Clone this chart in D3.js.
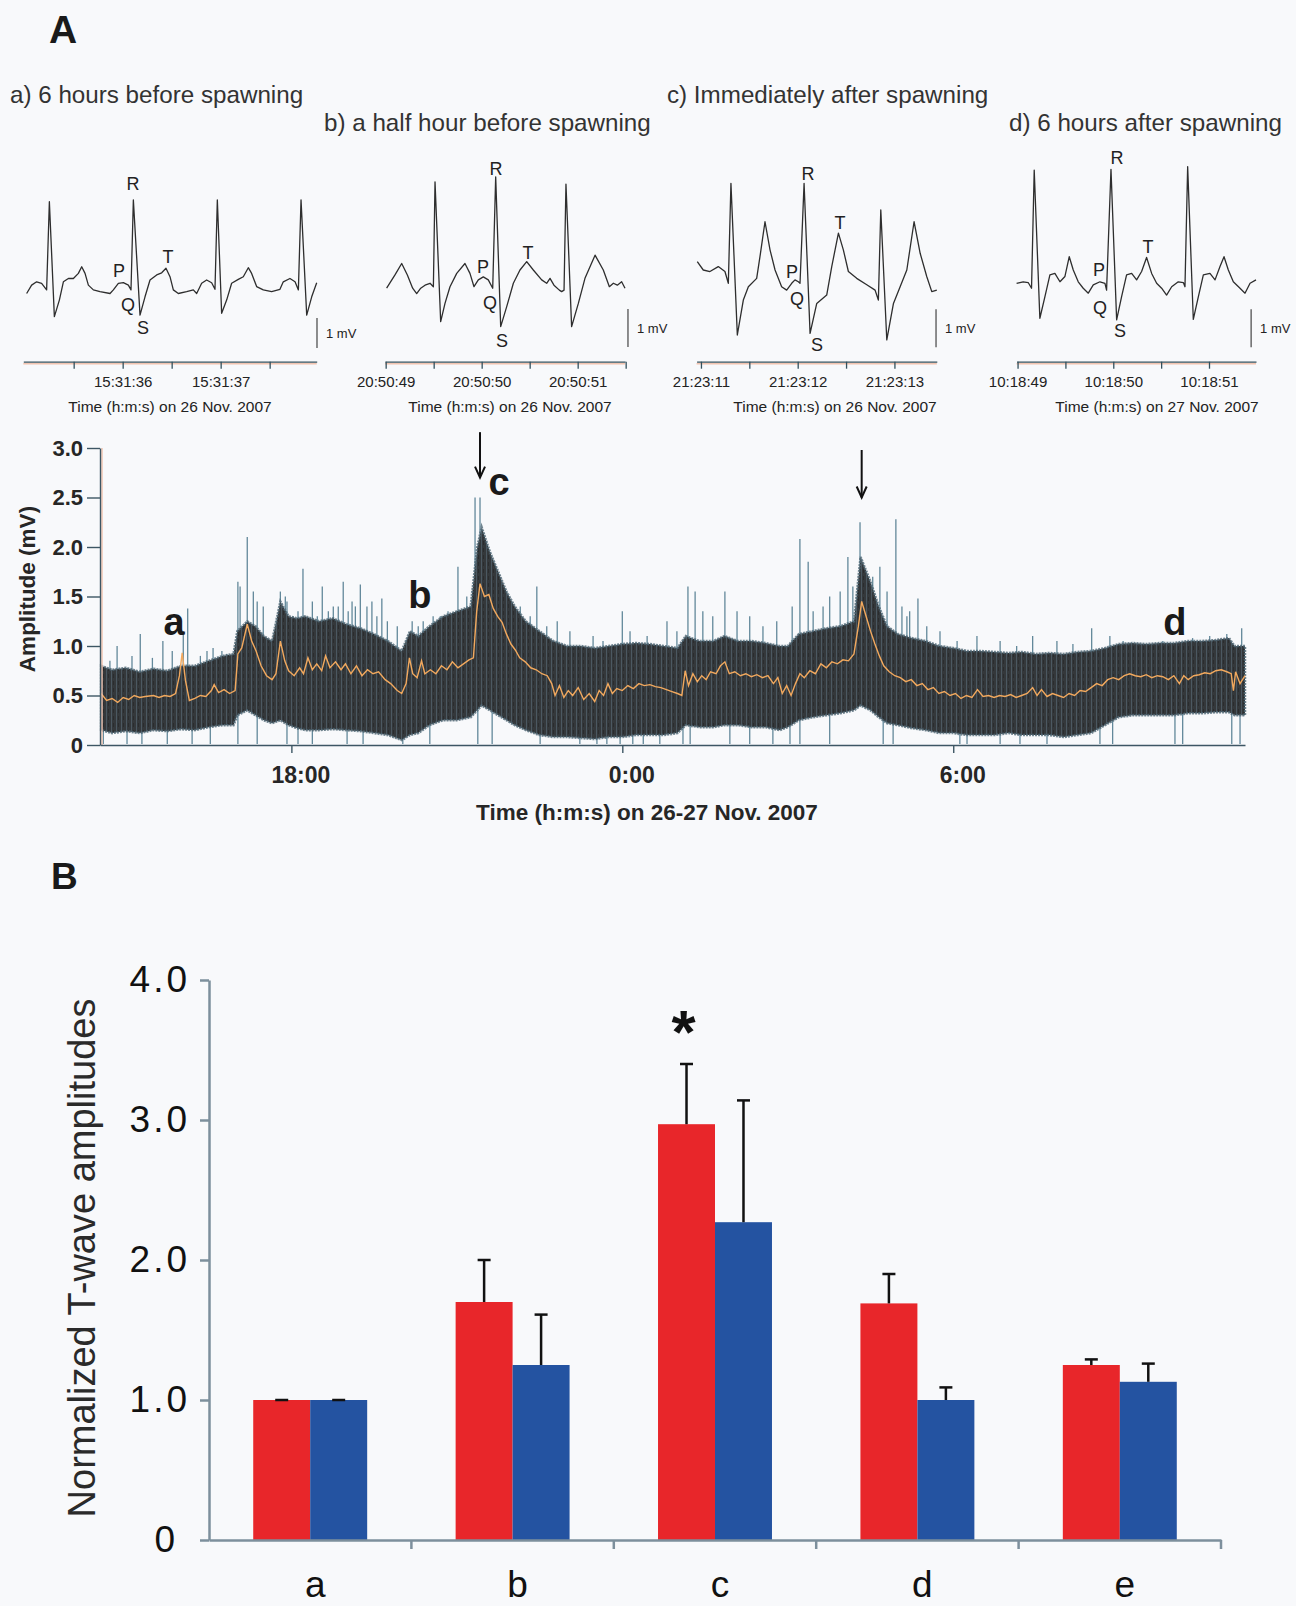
<!DOCTYPE html>
<html>
<head>
<meta charset="utf-8">
<script src="https://cdn.jsdelivr.net/npm/d3@7"></script>
<style>
body { margin: 0; background: #f8f9fb; }
svg { display: block; font-family: "Liberation Sans", Arial, sans-serif; }
</style>
</head>
<body>
<div id="screen"></div>
<script>
// ---------- A: ECG snippets, [seconds from the labelled tick, mV] ----------
const ecgA = [[-0.980,-0.06],[-0.929,0.22],[-0.878,0.33],[-0.827,0.28],[-0.776,0.06],[-0.748,3.0],[-0.697,-0.83],[-0.646,-0.28],[-0.605,0.33],[-0.554,0.44],[-0.503,0.44],[-0.452,0.61],[-0.418,0.83],[-0.384,0.61],[-0.350,0.22],[-0.299,0.06],[-0.231,0],[-0.129,-0.06],[-0.095,0.06],[-0.044,0.28],[0.007,0.30],[0.058,0.22],[0.085,0.06],[0.109,3.06],[0.177,-0.78],[0.228,-0.17],[0.279,0.39],[0.347,0.56],[0.398,0.63],[0.442,0.78],[0.483,0.5],[0.517,0.06],[0.568,-0.06],[0.653,0],[0.721,0.06],[0.755,-0.06],[0.806,0.28],[0.857,0.39],[0.908,0.30],[0.942,0.08],[0.966,3.06],[1.010,-0.72],[1.061,-0.28],[1.112,0.28],[1.180,0.41],[1.231,0.5],[1.282,0.8],[1.316,0.61],[1.367,0.17],[1.435,0.06],[1.520,0],[1.605,0.08],[1.639,0.33],[1.707,0.44],[1.759,0.33],[1.793,0.06],[1.820,3.06],[1.878,-0.78],[1.929,-0.17],[1.980,0.30]]
const ecgB = [[-0.990,-0.04],[-0.903,0.31],[-0.833,0.61],[-0.774,0.31],[-0.719,-0.04],[-0.677,-0.18],[-0.635,-0.04],[-0.590,0.04],[-0.538,0.09],[-0.503,0],[-0.486,2.76],[-0.427,-0.92],[-0.382,-0.44],[-0.330,0],[-0.260,0.35],[-0.174,0.61],[-0.122,0.35],[-0.080,0],[-0.035,0.18],[0.017,0.26],[0.069,0.18],[0.115,-0.04],[0.146,2.89],[0.198,-1.05],[0.260,-0.53],[0.330,0.09],[0.399,0.44],[0.469,0.66],[0.538,0.44],[0.625,0.18],[0.677,0.09],[0.712,0.22],[0.753,0.04],[0.809,-0.09],[0.833,-0.13],[0.858,-0.09],[0.878,2.70],[0.937,-1.05],[1.007,-0.44],[1.076,0.22],[1.181,0.83],[1.267,0.44],[1.330,0],[1.372,0.09],[1.413,0.04],[1.458,0.13],[1.493,-0.04]]
const ecgC = [[-1.038,0.57],[-0.976,0.35],[-0.907,0.31],[-0.821,0.44],[-0.752,0.31],[-0.717,0],[-0.690,2.63],[-0.624,-1.36],[-0.562,-0.44],[-0.510,-0.09],[-0.424,0.13],[-0.390,0.70],[-0.338,1.62],[-0.286,0.88],[-0.234,0.35],[-0.166,-0.09],[-0.114,-0.18],[-0.062,0],[-0.028,0.09],[0.007,0.04],[0.024,0],[0.066,2.63],[0.128,-1.32],[0.197,-0.53],[0.300,-0.31],[0.352,0.44],[0.421,1.32],[0.472,0.88],[0.524,0.31],[0.610,0.13],[0.714,-0.04],[0.800,-0.18],[0.834,-0.44],[0.859,1.93],[0.921,-1.49],[0.990,-0.53],[1.059,-0.09],[1.128,0.35],[1.203,1.62],[1.266,0.79],[1.334,0.18],[1.386,-0.22],[1.438,-0.18]]
const ecgD = [[-1.010,0],[-0.941,0.04],[-0.889,0.02],[-0.854,-0.13],[-0.826,2.98],[-0.767,-0.92],[-0.714,-0.35],[-0.662,0.22],[-0.610,0.26],[-0.557,0.04],[-0.505,0.18],[-0.460,0.70],[-0.418,0.35],[-0.366,0.04],[-0.314,-0.13],[-0.261,-0.26],[-0.209,-0.04],[-0.139,0.04],[-0.087,0],[-0.070,-0.18],[-0.024,3.0],[0.035,-0.96],[0.087,-0.35],[0.139,0.22],[0.192,0.26],[0.244,0.09],[0.296,0.31],[0.348,0.68],[0.401,0.26],[0.453,0],[0.505,-0.13],[0.557,-0.31],[0.610,-0.09],[0.679,0.04],[0.732,0.02],[0.749,-0.09],[0.777,3.07],[0.836,-0.95],[0.889,-0.35],[0.941,0.22],[1.010,0.26],[1.063,0.09],[1.115,0.44],[1.157,0.70],[1.202,0.35],[1.254,0.04],[1.324,-0.13],[1.376,-0.26],[1.429,0],[1.491,0.09]]

const snippetTitles = ['a) 6 hours before spawning', 'b) a half hour before spawning', 'c) Immediately after spawning', 'd) 6 hours after spawning']
const snippetDates = ['26 Nov. 2007', '26 Nov. 2007', '26 Nov. 2007', '27 Nov. 2007']
const ticksA = [-0.5, 0, 0.5, 1, 1.5], tickTextA = ['', '15:31:36', '', '15:31:37', '']
const ticksB = [-1, -0.5, 0, 0.5, 1, 1.5], tickTextB = ['20:50:49', '', '20:50:50', '', '20:50:51', '']
const ticksC = [-1, -0.5, 0, 0.5, 1], tickTextC = ['21:23:11', '', '21:23:12', '', '21:23:13']
const ticksD = [-1, -0.5, 0, 0.5, 1], tickTextD = ['10:18:49', '', '10:18:50', '', '10:18:51']
// wave letters placed at [letter, s, mV]
const wavesA = [['R',0.105,3.62],['P',-0.038,0.72],['Q',0.054,-0.44],['S',0.207,-1.18],['T',0.462,1.16]]
const wavesB = [['R',0.149,3.12],['P',0.014,0.52],['Q',0.086,-0.41],['S',0.211,-1.41],['T',0.482,0.91]]
const wavesC = [['R',0.107,2.90],['P',-0.059,0.30],['Q',-0.007,-0.39],['S',0.200,-1.62],['T',0.437,1.59]]
const wavesD = [['R',0.039,3.30],['P',-0.149,0.35],['Q',-0.139,-0.65],['S',0.070,-1.23],['T',0.363,0.96]]

// ---------- A: amplitude over the night, hours after 0:00 on 26 Nov ----------
// dark band of the raw trace: [hour, low mV, high mV]
const noiseBand = [[14.55,0.15,0.80],[14.75,0.12,0.76],[15.0,0.14,0.78],[15.25,0.12,0.74],[15.5,0.15,0.77],[15.75,0.14,0.75],[16.0,0.16,0.80],[16.25,0.15,0.80],[16.5,0.18,0.85],[16.75,0.2,0.9],[16.95,0.2,0.92],[17.02,0.3,1.15],[17.2,0.35,1.25],[17.35,0.3,1.2],[17.5,0.25,1.1],[17.65,0.22,1.05],[17.8,0.25,1.45],[17.95,0.2,1.3],[18.1,0.17,1.28],[18.25,0.15,1.3],[18.5,0.15,1.25],[18.75,0.16,1.28],[19.0,0.15,1.22],[19.25,0.14,1.18],[19.5,0.12,1.12],[19.75,0.1,1.05],[20.0,0.05,0.95],[20.15,0.1,1.15],[20.3,0.12,1.1],[20.5,0.2,1.2],[20.75,0.25,1.3],[21.0,0.25,1.35],[21.25,0.28,1.4],[21.37,0.35,2.0],[21.45,0.4,2.2],[21.6,0.35,1.95],[21.75,0.3,1.75],[21.9,0.25,1.55],[22.05,0.2,1.4],[22.25,0.15,1.25],[22.5,0.1,1.15],[22.75,0.08,1.05],[23.0,0.08,1.0],[23.25,0.07,1.0],[23.5,0.06,0.98],[23.75,0.08,1.0],[24.0,0.08,1.02],[24.25,0.1,1.03],[24.5,0.1,1.02],[24.75,0.1,1.0],[25.0,0.12,0.98],[25.15,0.2,1.1],[25.4,0.18,1.05],[25.65,0.18,1.05],[25.85,0.2,1.1],[26.1,0.2,1.05],[26.35,0.18,1.05],[26.6,0.18,1.03],[26.85,0.15,1.0],[27.0,0.18,1.0],[27.2,0.25,1.12],[27.45,0.28,1.15],[27.7,0.3,1.18],[27.95,0.32,1.2],[28.2,0.35,1.25],[28.32,0.4,1.9],[28.5,0.35,1.65],[28.65,0.28,1.4],[28.8,0.22,1.2],[29.0,0.2,1.12],[29.25,0.17,1.08],[29.5,0.15,1.05],[29.75,0.12,1.0],[30.0,0.12,0.98],[30.25,0.1,0.95],[30.5,0.1,0.95],[30.75,0.1,0.94],[31.0,0.12,0.93],[31.25,0.1,0.94],[31.5,0.1,0.92],[31.75,0.1,0.93],[32.0,0.08,0.92],[32.25,0.1,0.94],[32.5,0.12,0.95],[32.75,0.2,0.98],[33.0,0.28,1.02],[33.25,0.3,1.03],[33.5,0.3,1.02],[33.75,0.3,1.03],[34.0,0.3,1.03],[34.25,0.32,1.05],[34.5,0.32,1.05],[34.75,0.33,1.06],[35.0,0.33,1.08],[35.1,0.3,1.0],[35.29,0.3,1.0]]
// orange running mean: [hour, mV]
const trend = [[14.55,0.52],[14.65,0.45],[14.75,0.47],[14.85,0.43],[14.95,0.48],[15.05,0.46],[15.15,0.50],[15.25,0.48],[15.35,0.49],[15.5,0.50],[15.6,0.48],[15.7,0.50],[15.8,0.49],[15.9,0.52],[15.97,0.70],[16.02,0.93],[16.08,0.65],[16.15,0.45],[16.25,0.47],[16.35,0.50],[16.45,0.49],[16.55,0.55],[16.6,0.61],[16.68,0.53],[16.78,0.56],[16.88,0.52],[16.98,0.55],[17.03,0.92],[17.1,0.98],[17.2,1.22],[17.28,1.05],[17.36,0.95],[17.45,0.80],[17.55,0.70],[17.65,0.66],[17.72,0.72],[17.8,1.05],[17.88,0.85],[17.95,0.75],[18.05,0.70],[18.15,0.78],[18.22,0.72],[18.3,0.88],[18.38,0.76],[18.46,0.82],[18.55,0.75],[18.62,0.90],[18.7,0.78],[18.8,0.84],[18.9,0.76],[18.98,0.82],[19.08,0.72],[19.18,0.80],[19.28,0.70],[19.38,0.76],[19.48,0.72],[19.58,0.74],[19.7,0.66],[19.8,0.62],[19.92,0.55],[20.0,0.52],[20.08,0.62],[20.14,0.88],[20.2,0.72],[20.28,0.68],[20.36,0.85],[20.42,0.72],[20.52,0.76],[20.62,0.72],[20.72,0.80],[20.82,0.76],[20.92,0.84],[21.02,0.78],[21.12,0.82],[21.22,0.86],[21.3,0.88],[21.36,1.35],[21.42,1.63],[21.5,1.50],[21.58,1.52],[21.66,1.38],[21.74,1.30],[21.82,1.24],[21.9,1.12],[21.98,1.02],[22.06,0.96],[22.14,0.88],[22.24,0.84],[22.34,0.78],[22.44,0.76],[22.54,0.72],[22.64,0.70],[22.72,0.62],[22.78,0.50],[22.86,0.60],[22.94,0.48],[23.02,0.55],[23.1,0.50],[23.2,0.58],[23.3,0.46],[23.4,0.52],[23.5,0.44],[23.58,0.55],[23.66,0.50],[23.74,0.62],[23.82,0.52],[23.9,0.57],[24.0,0.55],[24.1,0.60],[24.2,0.57],[24.3,0.62],[24.4,0.60],[24.5,0.61],[24.6,0.59],[24.7,0.58],[24.8,0.56],[24.9,0.54],[25.0,0.52],[25.08,0.50],[25.14,0.75],[25.2,0.60],[25.28,0.72],[25.36,0.64],[25.44,0.70],[25.52,0.66],[25.6,0.74],[25.7,0.72],[25.78,0.80],[25.86,0.84],[25.94,0.72],[26.04,0.74],[26.14,0.70],[26.24,0.72],[26.34,0.69],[26.44,0.71],[26.54,0.68],[26.64,0.70],[26.74,0.62],[26.82,0.68],[26.9,0.52],[26.98,0.60],[27.06,0.50],[27.14,0.62],[27.22,0.72],[27.3,0.68],[27.4,0.75],[27.5,0.72],[27.6,0.82],[27.7,0.78],[27.8,0.84],[27.9,0.82],[28.0,0.86],[28.1,0.85],[28.2,0.92],[28.28,1.20],[28.34,1.45],[28.42,1.30],[28.5,1.15],[28.58,1.02],[28.66,0.90],[28.74,0.80],[28.84,0.74],[28.94,0.70],[29.04,0.68],[29.14,0.64],[29.24,0.66],[29.34,0.60],[29.44,0.62],[29.54,0.56],[29.64,0.58],[29.74,0.52],[29.84,0.54],[29.94,0.50],[30.04,0.52],[30.14,0.47],[30.24,0.50],[30.34,0.48],[30.44,0.56],[30.54,0.49],[30.64,0.50],[30.74,0.48],[30.84,0.50],[30.94,0.49],[31.04,0.51],[31.14,0.48],[31.24,0.50],[31.34,0.52],[31.44,0.58],[31.52,0.50],[31.6,0.56],[31.7,0.49],[31.8,0.52],[31.9,0.50],[32.0,0.48],[32.1,0.52],[32.2,0.50],[32.3,0.55],[32.4,0.54],[32.5,0.58],[32.6,0.62],[32.7,0.60],[32.8,0.66],[32.9,0.68],[33.0,0.66],[33.1,0.70],[33.2,0.72],[33.3,0.70],[33.4,0.69],[33.5,0.71],[33.6,0.68],[33.7,0.70],[33.8,0.69],[33.9,0.66],[34.0,0.70],[34.1,0.62],[34.18,0.70],[34.26,0.66],[34.36,0.70],[34.46,0.71],[34.56,0.73],[34.66,0.72],[34.76,0.75],[34.86,0.76],[34.96,0.74],[35.04,0.72],[35.08,0.55],[35.12,0.74],[35.2,0.62],[35.29,0.70]]
// single tall beats above the band: [hour, peak mV]
const spikesUp = [[14.71,0.85],[14.84,1.0],[15.11,0.9],[15.26,1.12],[15.48,0.88],[15.67,1.05],[15.84,0.95],[16.04,1.15],[16.12,1.38],[16.35,0.9],[16.47,0.95],[16.58,0.98],[16.74,0.95],[16.83,0.92],[17.03,1.65],[17.07,1.6],[17.2,2.1],[17.31,1.55],[17.38,1.45],[17.49,1.4],[17.8,1.55],[17.89,1.5],[17.92,1.45],[18.03,1.3],[18.12,1.35],[18.21,1.78],[18.38,1.45],[18.47,1.3],[18.56,1.6],[18.67,1.35],[18.76,1.4],[18.85,1.4],[18.94,1.65],[19.03,1.35],[19.1,1.45],[19.16,1.4],[19.25,1.62],[19.37,1.4],[19.46,1.45],[19.55,1.3],[19.64,1.48],[19.74,1.25],[19.92,1.2],[20.19,1.25],[20.3,1.2],[20.39,1.25],[20.57,1.3],[20.7,1.3],[20.84,1.35],[21.02,1.8],[21.18,1.5],[21.33,2.5],[21.42,2.5],[21.6,1.95],[21.73,1.55],[21.91,1.45],[22.15,1.4],[22.33,1.3],[22.45,1.6],[22.63,1.2],[22.82,1.25],[23.05,1.15],[23.47,1.1],[23.65,1.05],[24.0,1.35],[24.14,1.15],[24.45,1.1],[24.81,1.25],[24.99,1.15],[25.19,1.6],[25.32,1.55],[25.46,1.35],[25.64,1.3],[25.86,1.55],[26.08,1.35],[26.31,1.3],[26.55,1.2],[26.8,1.25],[27.08,1.4],[27.22,2.08],[27.37,1.85],[27.46,1.35],[27.64,1.4],[27.76,1.5],[27.95,1.55],[28.09,1.9],[28.18,1.6],[28.31,2.25],[28.54,1.7],[28.67,1.8],[28.8,1.55],[28.96,2.28],[29.07,1.4],[29.16,1.3],[29.21,1.35],[29.36,1.48],[29.52,1.2],[29.76,1.15],[30.07,1.05],[30.43,1.1],[30.85,1.05],[31.15,1.0],[31.44,1.1],[31.88,1.05],[32.17,1.02],[32.51,1.18],[32.84,1.1],[33.08,1.05],[33.44,1.02],[33.8,1.05],[34.34,1.08],[34.65,1.1],[34.96,1.12],[35.23,1.18]]
// beats that drop to the baseline: hour
const spikesDown = [14.59,15.02,15.29,15.75,16.2,16.53,17.03,17.38,17.92,18.12,18.38,19.01,19.3,20.02,20.51,21.38,21.64,22.51,23.23,23.54,23.72,23.96,24.19,24.38,24.68,25.1,25.23,25.95,26.31,26.73,27.04,27.22,27.76,28.73,28.91,30.12,30.25,30.85,31.21,31.7,32.66,32.89,34.02,34.16,35.05,35.2]
const hourTicks = [18, 24, 30]
const amplitudeTicks = [0, 0.5, 1.0, 1.5, 2.0, 2.5, 3.0]
// snippet letters and spawning arrows: [text, hour, mV]
const snippetMarks = [['a',15.875,1.11],['b',20.33,1.38],['c',21.765,2.53],['d',34.02,1.11]]
const spawnArrows = [[21.42,3.16,2.70],[28.34,2.98,2.50]]

// ---------- B: normalized T-wave amplitudes ----------
const groups = ['a', 'b', 'c', 'd', 'e']
const redMean = [1.0, 1.70, 2.97, 1.69, 1.25]
const redSE = [0.0, 0.30, 0.43, 0.21, 0.04]
const blueMean = [1.0, 1.25, 2.27, 1.00, 1.13]
const blueSE = [0.0, 0.36, 0.87, 0.09, 0.13]
const amplitudeTicksB = [0, 1, 2, 3, 4]

const W = 1296, H = 1606
const svg = d3.select('#screen').append('svg').attr('width', W).attr('height', H)

// streaky fill for the dense raw trace
const pat = svg.append('defs').append('pattern')
    .attr('id', 'rawTrace').attr('patternUnits', 'userSpaceOnUse')
    .attr('width', 5).attr('height', 7)
pat.append('rect').attr('width', 5).attr('height', 7).attr('fill', '#34383b')
pat.append('rect').attr('x', 1).attr('width', 1).attr('height', 7).attr('fill', '#4b5861')
pat.append('rect').attr('x', 3).attr('y', 2).attr('width', 1).attr('height', 4).attr('fill', '#2a2c2e')

function styleAxis(ax, color, width)
{
    ax.select('.domain').attr('stroke', color).attr('stroke-width', width)
    ax.selectAll('.tick line').attr('stroke', color).attr('stroke-width', width)
}

// ---------------- ECG snippet panel ----------------
function EcgPanel(cfg)
{
    this.cfg = cfg
    this.x = d3.scaleLinear().domain(cfg.span).range(cfg.xRange)
    this.y = d3.scaleLinear().domain([0, 1]).range([cfg.base, cfg.base - cfg.mvPx])
}

EcgPanel.prototype.draw = function(root)
{
    const c = this.cfg, x = this.x, y = this.y
    const g = root.append('g')

    g.append('text')
        .attr('x', c.titleX).attr('y', c.titleY)
        .attr('font-size', 24.2).attr('fill', '#333')
        .text(c.title)

    g.append('path')
        .datum(c.trace)
        .attr('d', d3.line().x(d => x(d[0])).y(d => y(d[1])))
        .attr('fill', 'none').attr('stroke', '#2e2e2e')
        .attr('stroke-width', 1.3).attr('stroke-linejoin', 'round')

    g.selectAll('.wave').data(c.waves).join('text')
        .attr('x', d => x(d[1])).attr('y', d => y(d[2]))
        .attr('dy', '0.36em').attr('text-anchor', 'middle')
        .attr('font-size', 18).attr('fill', '#222')
        .text(d => d[0])

    // 1 mV calibration bar
    g.append('line')
        .attr('x1', x(c.bar[0])).attr('x2', x(c.bar[0]))
        .attr('y1', y(c.bar[1])).attr('y2', y(c.bar[1] + 1))
        .attr('stroke', '#444').attr('stroke-width', 1.2)
    g.append('text')
        .attr('x', x(c.bar[0]) + 9).attr('y', y(c.bar[1] + 0.5))
        .attr('dy', '0.35em').attr('font-size', 13).attr('fill', '#222')
        .text('1 mV')

    g.append('line')
        .attr('x1', c.xRange[0]).attr('x2', c.xRange[1])
        .attr('y1', c.axisY + 2).attr('y2', c.axisY + 2)
        .attr('stroke', '#f2c4b0').attr('stroke-width', 1.5)
    const ax = g.append('g')
        .attr('transform', `translate(0,${c.axisY})`)
        .call(d3.axisBottom(x).tickValues(c.ticks).tickFormat((d, i) => c.tickText[i])
            .tickSize(7).tickSizeOuter(0).tickPadding(8))
    styleAxis(ax, '#34505c', 1.3)
    ax.selectAll('text').attr('font-size', 15).attr('fill', '#222')
        .attr('font-family', '"Liberation Sans", Arial, sans-serif')

    g.append('text')
        .attr('x', c.titleCx).attr('y', 412)
        .attr('text-anchor', 'middle').attr('font-size', 15.5).attr('fill', '#222')
        .text('Time (h:m:s) on ' + c.date)
}

const panels = [
    new EcgPanel({title: snippetTitles[0], date: snippetDates[0], trace: ecgA, waves: wavesA, ticks: ticksA, tickText: tickTextA,
        span: [-1.014, 1.980], xRange: [23.3, 316.7], base: 291.7, mvPx: 30, axisY: 361.7, bar: [1.983, -1.88], titleX: 10, titleY: 103, titleCx: 170}),
    new EcgPanel({title: snippetTitles[1], date: snippetDates[1], trace: ecgB, waves: wavesB, ticks: ticksB, tickText: tickTextB,
        span: [-1.007, 1.493], xRange: [385.0, 625.0], base: 286.7, mvPx: 38, axisY: 361.7, bar: [1.524, -1.59], titleX: 324, titleY: 131, titleCx: 510}),
    new EcgPanel({title: snippetTitles[2], date: snippetDates[2], trace: ecgC, waves: wavesC, ticks: ticksC, tickText: tickTextC,
        span: [-1.045, 1.438], xRange: [696.6, 936.8], base: 283.3, mvPx: 38, axisY: 361.7, bar: [1.43, -1.68], titleX: 667, titleY: 103, titleCx: 835}),
    new EcgPanel({title: snippetTitles[3], date: snippetDates[3], trace: ecgD, waves: wavesD, ticks: ticksD, tickText: tickTextD,
        span: [-1.010, 1.491], xRange: [1016.6, 1256.0], base: 283.3, mvPx: 38, axisY: 361.7, bar: [1.44, -1.68], titleX: 1009, titleY: 131, titleCx: 1157})
]
panels.forEach(p => p.draw(svg))

svg.append('text').attr('x', 49).attr('y', 43)
    .attr('font-size', 39).attr('font-weight', 'bold').attr('fill', '#1a1a1a').text('A')

// ---------------- amplitude over time ----------------
const xT = d3.scaleLinear().domain([14.53, 35.29]).range([100, 1245])
const yT = d3.scaleLinear().domain([0, 3]).range([745, 448])
const gT = svg.append('g')

gT.selectAll('.up').data(spikesUp).join('line')
    .attr('x1', d => xT(d[0])).attr('x2', d => xT(d[0]))
    .attr('y1', yT(0.4)).attr('y2', d => yT(d[1]))
    .attr('stroke', '#62889a').attr('stroke-width', 1.3)
gT.selectAll('.down').data(spikesDown).join('line')
    .attr('x1', d => xT(d)).attr('x2', d => xT(d))
    .attr('y1', yT(0.4)).attr('y2', yT(0.01))
    .attr('stroke', '#62889a').attr('stroke-width', 1.3)

gT.append('path')
    .datum(noiseBand)
    .attr('d', d3.area().x(d => xT(d[0])).y0(d => yT(d[1])).y1(d => yT(d[2])))
    .attr('fill', 'url(#rawTrace)').attr('stroke', '#4f6875').attr('stroke-width', 2.5)
    .attr('stroke-opacity', 0.8).attr('stroke-dasharray', '2,1')

gT.append('path')
    .datum(trend)
    .attr('d', d3.line().x(d => xT(d[0])).y(d => yT(d[1])))
    .attr('fill', 'none').attr('stroke', '#f2a95e').attr('stroke-width', 1.4)

gT.append('line').attr('x1', 102).attr('x2', 102).attr('y1', yT(3)).attr('y2', yT(0))
    .attr('stroke', '#f2c4b0').attr('stroke-width', 1.5)
const axY = gT.append('g').attr('transform', 'translate(100,0)')
    .call(d3.axisLeft(yT).tickValues(amplitudeTicks).tickFormat(d => d === 0 ? '0' : d.toFixed(1))
        .tickSize(13).tickSizeOuter(0).tickPadding(4))
styleAxis(axY, '#3d5664', 1.4)
axY.selectAll('text').attr('font-size', 22).attr('font-weight', 'bold').attr('fill', '#262626')
    .attr('font-family', '"Liberation Sans", Arial, sans-serif')

const axX = gT.append('g').attr('transform', 'translate(0,745)')
    .call(d3.axisBottom(xT).tickValues(hourTicks).tickFormat(d => (d % 24) + ':00')
        .tickSize(8).tickSizeOuter(0).tickPadding(14))
styleAxis(axX, '#3d5664', 1.4)
axX.selectAll('text').attr('dx', 9).attr('font-size', 23).attr('font-weight', 'bold').attr('fill', '#262626')
    .attr('font-family', '"Liberation Sans", Arial, sans-serif')

gT.append('text').attr('x', 647).attr('y', 820).attr('text-anchor', 'middle')
    .attr('font-size', 22.5).attr('font-weight', 'bold').attr('fill', '#262626').text('Time (h:m:s) on 26-27 Nov. 2007')
gT.append('text').attr('transform', 'translate(35,589) rotate(-90)').attr('text-anchor', 'middle')
    .attr('font-size', 22.5).attr('font-weight', 'bold').attr('fill', '#262626').text('Amplitude (mV)')

gT.selectAll('.mark').data(snippetMarks).join('text')
    .attr('x', d => xT(d[1])).attr('y', d => yT(d[2]))
    .attr('text-anchor', 'middle').attr('font-size', 38).attr('font-weight', 'bold').attr('fill', '#1a1a1a')
    .text(d => d[0])

spawnArrows.forEach(a => {
    const ax = xT(a[0]), y0 = yT(a[1]), y1 = yT(a[2])
    gT.append('line').attr('x1', ax).attr('x2', ax).attr('y1', y0).attr('y2', y1)
        .attr('stroke', '#111').attr('stroke-width', 2)
    gT.append('path').attr('d', `M${ax - 5},${y1 - 11}L${ax},${y1}L${ax + 5},${y1 - 11}`)
        .attr('fill', 'none').attr('stroke', '#111').attr('stroke-width', 2)
})

// ---------------- B: bar chart ----------------
svg.append('text').attr('x', 51).attr('y', 889)
    .attr('font-size', 37).attr('font-weight', 'bold').attr('fill', '#1a1a1a').text('B')

const xB = d3.scaleBand().domain(groups).range([209, 1221]).paddingInner(0.437).paddingOuter(0.2185)
const xSub = d3.scaleBand().domain(['red', 'blue']).range([0, xB.bandwidth()])
const yB = d3.scaleLinear().domain([0, 4]).range([1540, 980])
const gB = svg.append('g')

const barRows = groups.map((k, i) => [
    {group: k, series: 'red', mean: redMean[i], se: redSE[i], color: '#e8262a'},
    {group: k, series: 'blue', mean: blueMean[i], se: blueSE[i], color: '#2453a1'}
]).flat()

gB.selectAll('.bar').data(barRows).join('rect')
    .attr('x', d => xB(d.group) + xSub(d.series))
    .attr('width', xSub.bandwidth())
    .attr('y', d => yB(d.mean))
    .attr('height', d => yB(0) - yB(d.mean))
    .attr('fill', d => d.color)

barRows.forEach(d => {
    const cx = xB(d.group) + xSub(d.series) + xSub.bandwidth() / 2
    gB.append('line').attr('x1', cx).attr('x2', cx).attr('y1', yB(d.mean)).attr('y2', yB(d.mean + d.se))
        .attr('stroke', '#111').attr('stroke-width', 2.5)
    gB.append('line').attr('x1', cx - 6.5).attr('x2', cx + 6.5).attr('y1', yB(d.mean + d.se)).attr('y2', yB(d.mean + d.se))
        .attr('stroke', '#111').attr('stroke-width', 2.5)
})

gB.append('text')
    .attr('x', xB('c') + xSub('red') + xSub.bandwidth() / 2 - 3).attr('y', yB(3.48))
    .attr('text-anchor', 'middle').attr('font-size', 62).attr('font-weight', 'bold').attr('fill', '#111')
    .text('*')

const axYB = gB.append('g').attr('transform', 'translate(209,0)')
    .call(d3.axisLeft(yB).tickValues(amplitudeTicksB).tickFormat(d => d === 0 ? '0' : d.toFixed(1))
        .tickSize(9).tickSizeOuter(0).tickPadding(10))
styleAxis(axYB, '#7d8f9c', 2.5)
axYB.selectAll('text').attr('font-size', 37).attr('letter-spacing', 3).attr('fill', '#111')
    .attr('font-family', '"Liberation Sans", Arial, sans-serif')
    .attr('dx', d => d === 0 ? -12 : 0)

const axXB = gB.append('g').attr('transform', 'translate(0,1540)')
    .call(d3.axisBottom(xB).tickSize(0).tickSizeOuter(0))
styleAxis(axXB, '#7d8f9c', 2.5)
axXB.selectAll('text').attr('y', 57).attr('dy', 0).attr('dx', 5).attr('font-size', 37).attr('fill', '#111')
    .attr('font-family', '"Liberation Sans", Arial, sans-serif')
gB.selectAll('.bound').data(groups).join('line')
    .attr('x1', d => xB(d) - xB.step() * xB.paddingOuter() + xB.step())
    .attr('x2', d => xB(d) - xB.step() * xB.paddingOuter() + xB.step())
    .attr('y1', 1540).attr('y2', 1549)
    .attr('stroke', '#7d8f9c').attr('stroke-width', 2.5)

gB.append('text').attr('transform', 'translate(82,1258) rotate(-90)').attr('dy', '0.35em')
    .attr('text-anchor', 'middle').attr('font-size', 38).attr('fill', '#2a2a2a')
    .text('Normalized T-wave amplitudes')
</script>
</body>
</html>
